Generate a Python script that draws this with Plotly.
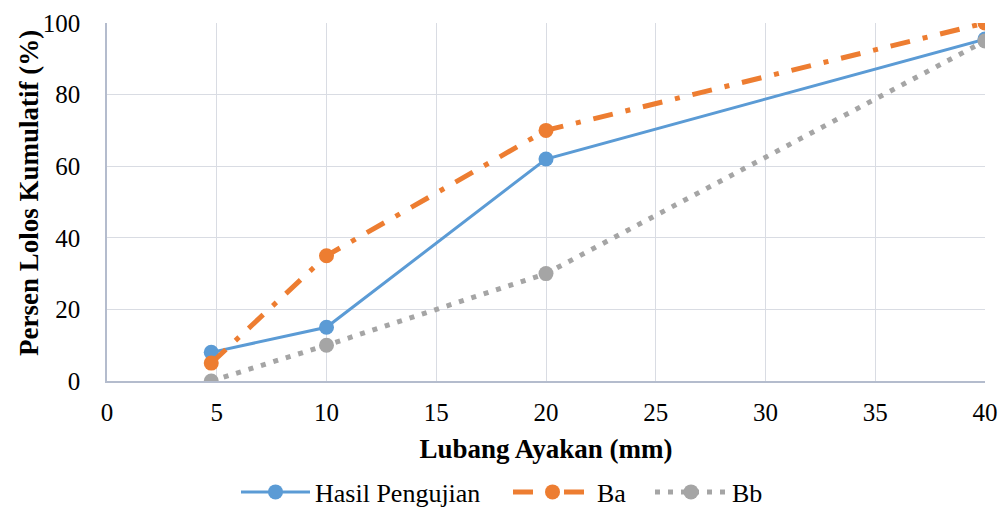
import plotly.graph_objects as go

x_sieve = [4.75, 10, 20, 40]
hasil = [8, 15, 62, 95.5]
ba = [5, 35, 70, 100]
bb = [0, 10, 30, 95]
x_ticks = [0, 5, 10, 15, 20, 25, 30, 35, 40]
y_ticks = [0, 20, 40, 60, 80, 100]

FONT = "Liberation Serif"
L, R, T, B = 107, 18, 23, 126
PW = 1003 - L - R
PH = 507 - T - B


def px_x(p):
    return (p - L) / PW


def px_y(p):
    return (507 - B - p) / PH


fig = go.Figure()
fig.add_trace(go.Scatter(
    x=x_sieve, y=hasil, name="Hasil Pengujian", mode="lines+markers",
    line=dict(color="#5B9BD5", width=3),
    marker=dict(size=15, color="#5B9BD5"), legend="legend", showlegend=True))
fig.add_trace(go.Scatter(
    x=x_sieve, y=ba, name="Ba", mode="lines+markers",
    line=dict(color="#ED7D31", width=5, dash="20px,13px,5px,13px"),
    marker=dict(size=15, color="#ED7D31"), legend="legend2", showlegend=True))
fig.add_trace(go.Scatter(
    x=x_sieve, y=bb, name="Bb", mode="lines+markers",
    line=dict(color="#A5A5A5", width=5, dash="5px,8px"),
    marker=dict(size=15, color="#A5A5A5"), legend="legend3", showlegend=True))

leg_common = dict(orientation="h", xanchor="left", yanchor="middle", y=px_y(492),
                  font=dict(family=FONT, size=26, color="black"),
                  bgcolor="rgba(0,0,0,0)")

fig.update_layout(
    width=1003, height=507,
    margin=dict(l=L, r=R, t=T, b=B, autoexpand=False),
    paper_bgcolor="white", plot_bgcolor="white",
    showlegend=True,
    font=dict(family=FONT, size=25, color="black"),
    legend=dict(x=px_x(236), itemwidth=69, **leg_common),
    legend2=dict(x=px_x(508), itemwidth=79, **leg_common),
    legend3=dict(x=px_x(650), itemwidth=72, **leg_common),
    annotations=[dict(
        text="<b>Persen Lolos Kumulatif (%)</b>", textangle=-90,
        xref="paper", yref="paper", x=px_x(29), y=px_y(193),
        xanchor="center", yanchor="middle", showarrow=False,
        font=dict(family=FONT, size=27, color="black"))],
)
fig.update_xaxes(
    range=[0, 40], tickvals=x_ticks, ticktext=[str(v) for v in x_ticks],
    showgrid=True, gridcolor="#D9DCE3", gridwidth=1.3,
    showline=True, linecolor="#B4BCCD", linewidth=1.5,
    zeroline=False, ticks="", ticklen=0, tickfont=dict(family=FONT, size=25),
    ticklabelstandoff=8, automargin=False,
    title=dict(text="<b>Lubang Ayakan (mm)</b>", font=dict(family=FONT, size=27), standoff=14),
)
fig.update_yaxes(
    range=[0, 100], tickvals=y_ticks, ticktext=[str(v) for v in y_ticks],
    showgrid=True, gridcolor="#D9DCE3", gridwidth=1.3,
    showline=True, linecolor="#B4BCCD", linewidth=1.5,
    zeroline=False, ticks="", tickfont=dict(family=FONT, size=25),
    ticklabelstandoff=20, automargin=False,
)

fig.write_html("out.html", config={"displayModeBar": False},
               post_script="document.body.style.margin='0';")
